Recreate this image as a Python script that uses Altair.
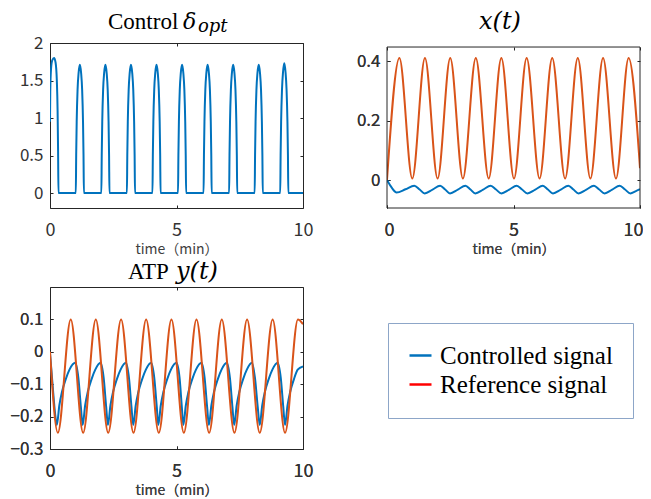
import altair as alt
import pandas as pd

SERIES = ["Controlled signal", "Reference signal"]
X_TICKS = [0, 5, 10]
Y1_TICKS = [0, 0.5, 1, 1.5, 2]
Y2_TICKS = [0, 0.2, 0.4]
Y3_TICKS = [-0.3, -0.2, -0.1, 0, 0.1]

# ---- Panel 1: control delta_opt (controlled signal only)
delta_t = [0, 0.01, 0.04, 0.09, 0.16, 0.22, 0.27, 0.30, 0.32, 0.335,
           1.02, 1.035, 1.055, 1.09, 1.13, 1.18, 1.23, 1.27, 1.305, 1.325, 1.34,
           2.03, 2.045, 2.065, 2.10, 2.14, 2.19, 2.24, 2.28, 2.315, 2.335, 2.35,
           3.04, 3.055, 3.075, 3.11, 3.15, 3.20, 3.25, 3.29, 3.325, 3.345, 3.36,
           4.05, 4.065, 4.085, 4.12, 4.16, 4.21, 4.26, 4.30, 4.335, 4.355, 4.37,
           5.06, 5.075, 5.095, 5.13, 5.17, 5.22, 5.27, 5.31, 5.345, 5.365, 5.38,
           6.07, 6.085, 6.105, 6.14, 6.18, 6.23, 6.28, 6.32, 6.355, 6.375, 6.39,
           7.08, 7.095, 7.115, 7.15, 7.19, 7.24, 7.29, 7.33, 7.365, 7.385, 7.40,
           8.09, 8.105, 8.125, 8.16, 8.20, 8.25, 8.30, 8.34, 8.375, 8.395, 8.41,
           9.10, 9.115, 9.135, 9.17, 9.21, 9.26, 9.31, 9.35, 9.385, 9.405, 9.42,
           10.0]
delta_v = [0.95, 1.35, 1.65, 1.77, 1.80, 1.74, 1.50, 1.10, 0.55, 0.0,
           0, 0.5, 0.95, 1.38, 1.60, 1.71, 1.60, 1.38, 0.95, 0.5, 0,
           0, 0.5, 0.95, 1.38, 1.60, 1.71, 1.60, 1.38, 0.95, 0.5, 0,
           0, 0.5, 0.95, 1.38, 1.60, 1.71, 1.60, 1.38, 0.95, 0.5, 0,
           0, 0.5, 0.95, 1.38, 1.60, 1.71, 1.60, 1.38, 0.95, 0.5, 0,
           0, 0.5, 0.95, 1.38, 1.60, 1.71, 1.60, 1.38, 0.95, 0.5, 0,
           0, 0.5, 0.95, 1.38, 1.60, 1.71, 1.60, 1.38, 0.95, 0.5, 0,
           0, 0.5, 0.95, 1.38, 1.60, 1.71, 1.60, 1.38, 0.95, 0.5, 0,
           0, 0.5, 0.95, 1.38, 1.60, 1.71, 1.60, 1.38, 0.95, 0.5, 0,
           0, 0.5, 0.95, 1.38, 1.61, 1.73, 1.61, 1.38, 0.95, 0.5, 0,
           0]

# ---- Panel 2: x(t)
x_ctrl_t = [0, 0.18, 0.38, 0.73, 1.08,
            1.29, 1.49, 1.80, 2.10,
            2.30, 2.49, 2.80, 3.10,
            3.30, 3.49, 3.80, 4.10,
            4.31, 4.52, 4.83, 5.13,
            5.34, 5.55, 5.86, 6.16,
            6.36, 6.56, 6.87, 7.17,
            7.37, 7.57, 7.88, 8.18,
            8.39, 8.60, 8.90, 9.20,
            9.41, 9.62, 9.82, 10.0]
x_ctrl_v = [0, -0.025, -0.042, -0.031, -0.019,
            -0.032, -0.045, -0.032, -0.019,
            -0.032, -0.045, -0.032, -0.019,
            -0.032, -0.045, -0.032, -0.019,
            -0.032, -0.045, -0.032, -0.019,
            -0.032, -0.045, -0.032, -0.019,
            -0.032, -0.045, -0.032, -0.019,
            -0.032, -0.045, -0.032, -0.019,
            -0.032, -0.045, -0.032, -0.019,
            -0.032, -0.045, -0.038, -0.031]
x_ref_t = [0, 0.49, 1.0, 1.5, 2.0, 2.5, 3.0, 3.51, 4.02, 4.52, 5.02,
           5.52, 6.03, 6.53, 7.04, 7.54, 8.04, 8.54, 9.05, 9.55, 10.0]
x_ref_v = [0, 0.41, 0.005, 0.41, 0.005, 0.41, 0.005, 0.41, 0.005, 0.41, 0.005,
           0.41, 0.005, 0.41, 0.005, 0.41, 0.005, 0.41, 0.005, 0.41, 0.04]

# ---- Panel 3: ATP y(t)
y_ctrl_t = [0, 0.10, 0.20,
            0.27, 0.37, 0.47, 0.62, 0.77, 1.00, 1.12, 1.22,
            1.29, 1.39, 1.49, 1.64, 1.79, 2.00, 2.12, 2.22,
            2.29, 2.39, 2.49, 2.64, 2.79, 3.00, 3.12, 3.22,
            3.29, 3.39, 3.49, 3.64, 3.79, 4.00, 4.12, 4.22,
            4.28, 4.38, 4.48, 4.63, 4.78, 5.00, 5.12, 5.21,
            5.27, 5.37, 5.47, 5.62, 5.77, 5.99, 6.11, 6.21,
            6.28, 6.38, 6.48, 6.63, 6.78, 6.99, 7.11, 7.21,
            7.28, 7.38, 7.48, 7.63, 7.78, 7.98, 8.10, 8.21,
            8.29, 8.39, 8.49, 8.64, 8.79, 9.00, 9.12, 9.22,
            9.29, 9.39, 9.49, 9.64, 9.79, 10.0]
y_ctrl_v = [-0.005, -0.10, -0.19,
            -0.226, -0.165, -0.125, -0.085, -0.055, -0.034, -0.08, -0.17,
            -0.226, -0.165, -0.125, -0.085, -0.055, -0.034, -0.08, -0.17,
            -0.226, -0.165, -0.125, -0.085, -0.055, -0.034, -0.08, -0.17,
            -0.226, -0.165, -0.125, -0.085, -0.055, -0.034, -0.08, -0.17,
            -0.226, -0.165, -0.125, -0.085, -0.055, -0.034, -0.08, -0.17,
            -0.226, -0.165, -0.125, -0.085, -0.055, -0.034, -0.08, -0.17,
            -0.226, -0.165, -0.125, -0.085, -0.055, -0.034, -0.08, -0.17,
            -0.226, -0.165, -0.125, -0.085, -0.055, -0.034, -0.08, -0.17,
            -0.226, -0.165, -0.125, -0.085, -0.055, -0.034, -0.08, -0.17,
            -0.226, -0.165, -0.125, -0.085, -0.055, -0.045]
y_ref_t = [0, 0.31, 0.82, 1.31, 1.81, 2.30, 2.81, 3.30, 3.80, 4.30, 4.80,
           5.29, 5.79, 6.29, 6.79, 7.29, 7.79, 8.29, 8.80, 9.29, 9.80, 10.0]
y_ref_v = [0, -0.25, 0.1, -0.25, 0.1, -0.25, 0.1, -0.25, 0.1, -0.25, 0.1,
           -0.25, 0.1, -0.25, 0.1, -0.25, 0.1, -0.25, 0.1, -0.25, 0.1, 0.085]

BLUE = "#0072BD"
ORANGE = "#D95319"
RED = "#FF0000"
AX = "#262626"
LAB = "#333333"
TICK_FONT = "Noto Sans CJK JP"
SERIF = "Liberation Serif"
MATH = "DejaVu Serif"

LEGEND = alt.Legend(orient="none", legendX=338, legendY=280, title=None,
                    symbolType="stroke", symbolSize=484, symbolStrokeWidth=2.5,
                    symbolOpacity=1, labelFont=SERIF, labelFontSize=25,
                    labelColor="black", strokeColor="#8DA6C8", fillColor="white",
                    padding=20, rowPadding=3, labelOffset=7, labelLimit=400)


def df_of(t, v, name):
    return pd.DataFrame({"t": t, "v": v, "series": name})


def x_axis(main, top_offset=-3, flush=False):
    if main:
        extra = dict(labelFlush=True, labelFlushOffset=3) if flush else dict(labelFlush=False)
        return alt.Axis(orient="bottom", values=X_TICKS, format="d", title="time（min）",
                        domain=False, grid=False, tickSize=3, offset=-3, tickColor=AX,
                        labelPadding=13, labelFont=TICK_FONT, labelFontSize=18,
                        labelColor=LAB, titleFont=TICK_FONT,
                        titleFontSize=14, titleFontWeight="normal", titleColor="#404040",
                        titlePadding=3, **extra)
    return alt.Axis(orient="top", values=X_TICKS, labels=False, title="", domain=False,
                    grid=False, tickSize=3, offset=top_offset, tickColor=AX)


def y_axis(main, ticks):
    if main:
        return alt.Axis(orient="left", values=ticks, format="~g", title="", domain=False,
                        grid=False, tickSize=3, offset=-3, tickColor=AX, labelPadding=7,
                        labelFont=TICK_FONT, labelFontSize=17, labelColor=LAB)
    return alt.Axis(orient="right", values=ticks, labels=False, title="", domain=False,
                    grid=False, tickSize=3, offset=-3, tickColor=AX)


ONE = pd.DataFrame({"a": [0]})


def txt(text, x, y, font, size, style="normal", align="left"):
    return alt.Chart(ONE).mark_text(text=text, font=font, fontSize=size, fontStyle=style,
                                    align=align, baseline="alphabetic", color="black"
                                    ).encode(x=alt.value(x), y=alt.value(y))


def panel(lines, ydom, yticks, titles, box=None, top_offset=-3, flush=False):
    xs = alt.Scale(domain=[0, 10], nice=False)
    ys = alt.Scale(domain=ydom, nice=False, zero=False)
    layers = []
    for df, stroke in lines:
        enc = dict(x=alt.X("t:Q", scale=xs, axis=x_axis(True, flush=flush)),
                   y=alt.Y("v:Q", scale=ys, axis=y_axis(True, yticks)),
                   color=alt.Color("series:N", scale=alt.Scale(domain=SERIES, range=[BLUE, RED]),
                                   legend=LEGEND))
        if stroke:
            enc["stroke"] = alt.value(stroke)
        layers.append(alt.Chart(df).mark_line(interpolate="monotone", strokeWidth=2,
                                              clip=True).encode(**enc))
    mirror = alt.Chart(lines[0][0]).mark_line(strokeOpacity=0).encode(
        x=alt.X("t:Q", scale=xs, axis=x_axis(False, top_offset)),
        y=alt.Y("v:Q", scale=ys, axis=y_axis(False, yticks)))
    extra = []
    if box is not None:
        extra.append(alt.Chart(ONE).mark_rect(fillOpacity=0, stroke=AX, strokeWidth=1).encode(
            x=alt.datum(0, axis=None), x2=alt.datum(10),
            y=alt.datum(box[0], axis=None), y2=alt.datum(box[1])))
    first = layers[0]
    rest = layers[1:] + [mirror] + extra + titles
    return alt.layer(first, *rest).resolve_axis(x="independent", y="independent")


p1 = panel([(df_of(delta_t, delta_v, SERIES[0]), None)], [-0.2, 2], Y1_TICKS,
           [txt("Control", 58, -14, SERIF, 23),
            txt("δ", 133, -14, MATH, 22, "italic"),
            txt("opt", 148, -11, MATH, 18, "italic")]).properties(width=253, height=165)

# x(t) panel: its box starts 4 px lower than the left panel's box
p2 = panel([(df_of(x_ctrl_t, x_ctrl_v, SERIES[0]), None),
            (df_of(x_ref_t, x_ref_v, SERIES[1]), ORANGE)], [-0.094, 0.4605], Y2_TICKS,
           [txt("x(t)", 113, -14, MATH, 24, "italic", "center")],
           box=(-0.094, 0.447), top_offset=-7, flush=True).properties(
    width=253, height=165, view=alt.ViewBackground(strokeOpacity=0))

p3 = panel([(df_of(y_ctrl_t, y_ctrl_v, SERIES[0]), None),
            (df_of(y_ref_t, y_ref_v, SERIES[1]), ORANGE)], [-0.3, 0.2], Y3_TICKS,
           [txt("ATP", 78, -8, SERIF, 23),
            txt("y(t)", 126, -8, MATH, 24, "italic")]).properties(width=253, height=162)

chart = alt.concat(p1, p2, p3, columns=2, spacing={"row": 79, "column": 84},
                   bounds="flush").properties(
    padding={"left": 1, "top": 2, "right": 0, "bottom": 0}
).configure_view(stroke=AX, strokeWidth=1)

chart.save("out.html", embed_options={"renderer": "svg", "actions": False})
